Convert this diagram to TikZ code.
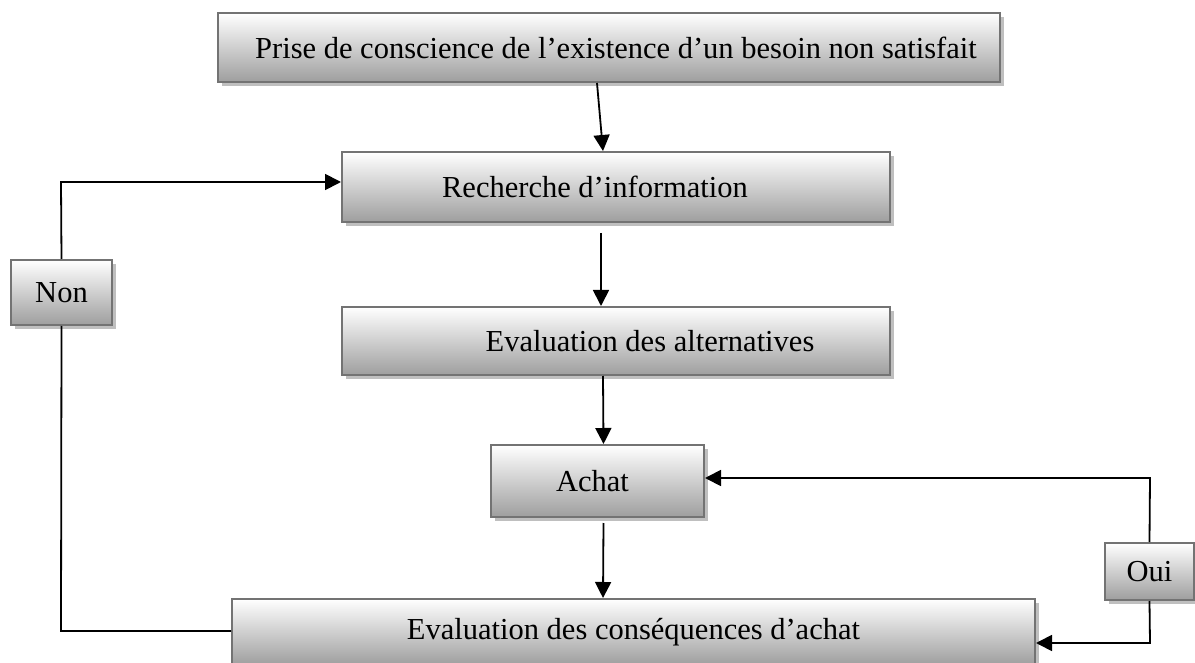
\documentclass[tikz,border=0pt]{standalone}
\usepackage{fontspec}
\setmainfont{Liberation Serif}
\usetikzlibrary{arrows.meta,shadows,calc}
\begin{document}
\begin{tikzpicture}[x=1pt,y=-1pt,
  box/.style={draw=black!55, line width=2pt, top color=white, bottom color=black!38,
    inner sep=0pt, drop shadow={shadow xshift=4pt, shadow yshift=-4pt, fill=black!25, opacity=1}},
  lbl/.style={font=\fontsize{30.5}{34}\selectfont, inner sep=0pt},
  conn/.style={line width=1.8pt, draw=black},
  arr/.style={conn, -{Triangle[length=16pt,width=16pt]}}
]
\useasboundingbox (0,0) rectangle (1195,663);
\node[box, minimum width=782pt, minimum height=69pt,
  label={[lbl, xshift=7pt]center:Prise de conscience de l’existence d’un besoin non satisfait}] (b1) at (609,47.5) {};
\node[box, minimum width=548pt, minimum height=70pt,
  label={[lbl, xshift=-21pt]center:Recherche d’information}] (b2) at (616,187) {};
\node[box, minimum width=548pt, minimum height=68pt,
  label={[lbl, xshift=34pt]center:Evaluation des alternatives}] (b3) at (616,341) {};
\node[box, minimum width=213pt, minimum height=72pt,
  label={[lbl, xshift=-5pt]center:Achat}] (b4) at (597.5,481) {};
\node[box, minimum width=803pt, minimum height=66pt,
  label={[lbl]center:Evaluation des conséquences d’achat}] (b5) at (633.5,632) {};
\node[box, minimum width=101pt, minimum height=65pt,
  label={[lbl]center:Non}] (non) at (61.5,292.5) {};
\node[box, minimum width=89pt, minimum height=57pt,
  label={[lbl]center:Oui}] (oui) at (1149.5,571.5) {};

% main flow
\draw[arr] ($(b1.south)+(-12,0)$) -- ($(b2.north)+(-13,0)$);
\draw[arr] ($(b2.south)+(-15,10)$) -- ($(b3.north)+(-15,0)$);
\draw[arr] ($(b3.south)+(-13,0)$) -- ($(b4.north)+(6,0)$);
\draw[arr] ($(b4.south)+(6,5)$) -- ($(b5.north)+(-30.5,0)$);

% Non loop
\coordinate (nl) at (61,631);
\coordinate (nt) at (61,182);
\draw[conn] (b5.west |- nl) -- (nl) -- (non.south);
\draw[arr] (non.north) -- (nt) -- (b2.west |- nt);

% Oui loop
\coordinate (ot) at (1150,478);
\coordinate (ob) at (1150,643);
\draw[arr] (oui.north) -- (ot) -- (b4.east |- ot);
\draw[arr] (oui.south) -- (ob) -- (b5.east |- ob);
\end{tikzpicture}
\end{document}
